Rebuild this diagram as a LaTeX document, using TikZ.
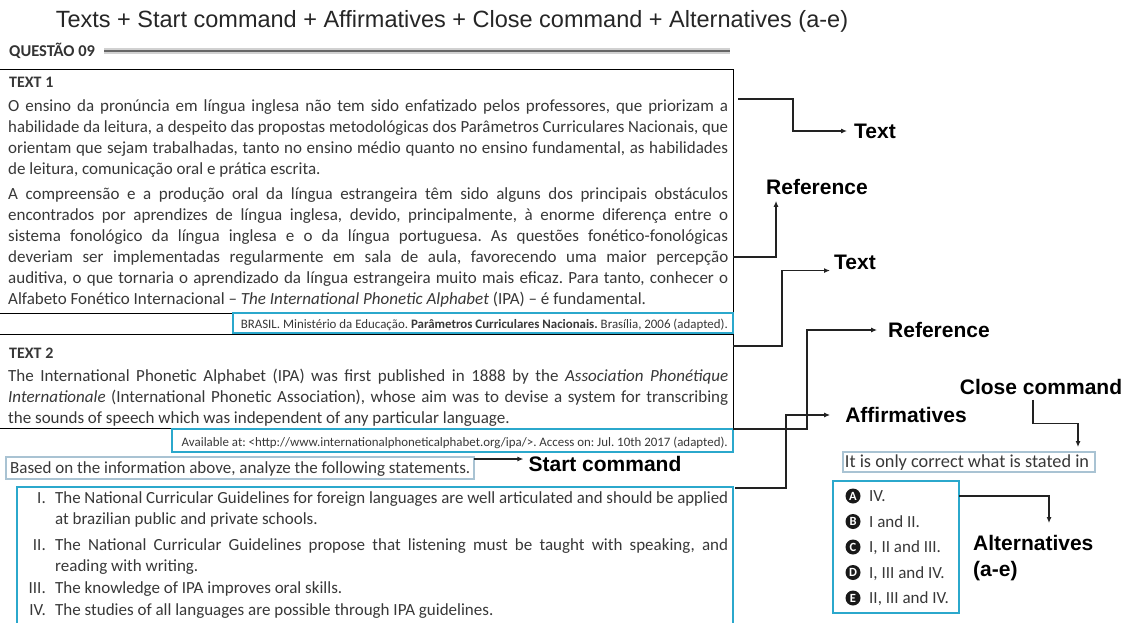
\documentclass[tikz,border=0pt]{standalone}
\usepackage{fontspec}
\usepackage{graphicx}
\setmainfont{Carlito}
\newfontfamily\arialfont{Liberation Sans}
\usetikzlibrary{arrows.meta}
\definecolor{boxcyan}{HTML}{2BA8CC}
\definecolor{boxpale}{HTML}{A9C3D3}
\definecolor{ink}{HTML}{383838}
\definecolor{wire}{HTML}{222222}
\frenchspacing
% one justified line of running text; squeezed if it is too long
\newsavebox\jlbox
\newcommand\jl[1]{\sbox\jlbox{#1}%
  \ifdim\wd\jlbox>\linewidth\resizebox{\linewidth}{\height}{\usebox\jlbox}%
  \else\makebox[\linewidth][s]{#1}\fi}
\begin{document}
\begin{tikzpicture}[x=1pt,y=-1pt,
  body/.style={anchor=base west, inner sep=0pt, text=ink, font=\fontsize{17}{21}\selectfont},
  small/.style={anchor=base east, inner sep=0pt, text=ink, font=\fontsize{12.9}{15}\selectfont},
  tag/.style={inner sep=0pt, text=black, font=\arialfont\bfseries\fontsize{21}{24}\selectfont},
  conn/.style={draw=wire, line width=1.1pt, -{Latex[length=6pt,width=5pt]}},
  frame/.style={draw=black, line width=1pt},
  cyanbox/.style={draw=boxcyan, line width=1.6pt},
  palebox/.style={draw=boxpale, line width=1.4pt},
  altmark/.style={circle, fill=black!90, text=white, inner sep=0pt, minimum size=15pt,
    font=\fontsize{12.5}{13}\selectfont\bfseries},
  altitem/.style={anchor=base west, inner sep=0pt, text=ink, font=\fontsize{17}{20}\selectfont},
  numeral/.style={anchor=base east, inner sep=0pt, text=ink, font=\fontsize{17}{21}\selectfont}]
\useasboundingbox[fill=white] (0,0) rectangle (1132,623);

% heading line
\node[anchor=base, inner sep=0pt, text=black!85, font=\arialfont\fontsize{23.5}{26}\selectfont]
  (title) at (452,28) {Texts + Start command + Affirmatives + Close command + Alternatives (a-e)};
\node[anchor=base west, inner sep=0pt, text=black!80, font=\bfseries\fontsize{16.5}{18}\selectfont]
  (q) at (9,57) {QUESTÃO 09};
\draw[black!18, line width=6pt] (104,51) -- (730,51);
\draw[black!60, line width=1.3pt] (104,51) -- (730,51);

% text frames and their sources
\draw[frame] (0,70) -- (733,70) -- (733,346);
\draw[frame] (0,313) -- (733,313);
\draw[frame] (0,334) -- (733,334) -- (733,428) -- (0,428);
\draw[cyanbox, fill=white] (233,313) rectangle (733,333);
\draw[cyanbox, fill=white] (172,429) rectangle (733,452);
\coordinate (srcB) at (733,429);

\node[body, font=\bfseries\fontsize{16}{21}\selectfont] (t1head) at (9,88) {TEXT 1};
\node[body] (t1) at (8,112) {\parbox[t]{720pt}{\fontsize{17}{21}\selectfont
\jl{O ensino da pronúncia em língua inglesa não tem sido enfatizado pelos professores, que priorizam a}\\
\jl{habilidade da leitura, a despeito das propostas metodológicas dos Parâmetros Curriculares Nacionais, que}\\
\jl{orientam que sejam trabalhadas, tanto no ensino médio quanto no ensino fundamental, as habilidades}\\
de leitura, comunicação oral e prática escrita.\\[4pt]
\jl{A compreensão e a produção oral da língua estrangeira têm sido alguns dos principais obstáculos}\\
\jl{encontrados por aprendizes de língua inglesa, devido, principalmente, à enorme diferença entre o}\\
\jl{sistema fonológico da língua inglesa e o da língua portuguesa. As questões fonético-fonológicas}\\
\jl{deveriam ser implementadas regularmente em sala de aula, favorecendo uma maior percepção}\\
\jl{auditiva, o que tornaria o aprendizado da língua estrangeira muito mais eficaz. Para tanto, conhecer o}\\
Alfabeto Fonético Internacional – \textit{The International Phonetic Alphabet} (IPA) – é fundamental.}};
\node[small] (src1) at (728,328) {BRASIL. Ministério da Educação. \textbf{Parâmetros Curriculares Nacionais.} Brasília, 2006 (adapted).};

\node[body, font=\bfseries\fontsize{16}{21}\selectfont] (t2head) at (9,358) {TEXT 2};
\node[body] (t2) at (8,381) {\parbox[t]{720pt}{\fontsize{17}{21}\selectfont
\jl{The International Phonetic Alphabet (IPA) was first published in 1888 by the \textit{Association Phonétique}}\\
\jl{\textit{Internationale} (International Phonetic Association), whose aim was to devise a system for transcribing}\\
the sounds of speech which was independent of any particular language.}};
\node[small] (src2) at (728,446) {Available at: <http://www.internationalphoneticalphabet.org/ipa/>. Access on: Jul. 10th 2017 (adapted).};

% start command
\draw[palebox] (6,457) rectangle (474,479);
\node[body] (start) at (10,473) {Based on the information above, analyze the following statements.};
\coordinate (startR) at (474,459);

% statements
\draw[cyanbox] (17,630) -- (17,487) -- (733,487) -- (733,630);
\coordinate (stmR) at (735,488);
\node[numeral] at (46,503) {I.};
\node[numeral] at (46,550) {II.};
\node[numeral] at (46,593) {III.};
\node[numeral] at (46,615) {IV.};
\node[body] (s1) at (55,503) {\parbox[t]{673pt}{\fontsize{17}{21}\selectfont
\jl{The National Curricular Guidelines for foreign languages are well articulated and should be applied}\\
at brazilian public and private schools.}};
\node[body] (s2) at (55,550) {\parbox[t]{673pt}{\fontsize{17}{21}\selectfont
\jl{The National Curricular Guidelines propose that listening must be taught with speaking, and}\\
reading with writing.}};
\node[body] (s3) at (55,593) {The knowledge of IPA improves oral skills.};
\node[body] (s4) at (55,615) {The studies of all languages are possible through IPA guidelines.};

% close command and alternatives
\draw[palebox] (843,452) rectangle (1095,472);
\node[anchor=base, inner sep=0pt, text=ink, font=\fontsize{18.3}{20}\selectfont] (close) at (967,467) {It is only correct what is stated in};
\draw[cyanbox] (833,481) rectangle (959,613);
\coordinate (altR) at (959,496);
\foreach \l/\t [count=\i from 0] in {A/IV., B/I and II., C/{I, II and III.}, D/{I, III and IV.}, E/{II, III and IV.}}{
  \node[altmark] (m\l) at (853,496+25.5*\i) {\l};
  \node[altitem] (a\l) at (869,501.5+25.5*\i) {\t};
}

% labels
\node[tag] (lText1) at (875,131) {Text};
\node[tag] (lRef1) at (817,187) {Reference};
\node[tag] (lText2) at (855,262) {Text};
\node[tag] (lRef2) at (939,330) {Reference};
\node[tag] (lAff) at (906,415) {Affirmatives};
\node[tag] (lStart) at (605,464) {Start command};
\node[tag] (lClose) at (1041,387) {Close command};
\node[tag, anchor=north west, align=left, font=\arialfont\bfseries\fontsize{21}{26}\selectfont]
  (lAlt) at (973,535) {Alternatives\\(a-e)};

% connectors
\coordinate (t1out) at (738,99);
\coordinate (t1mid) at (733,257);
\coordinate (t2top) at (733,346);
\coordinate (closeIn) at (1078,447);
\coordinate (altIn) at (1049,523);
\draw[conn] (t1out) -- (793,99) |- ([xshift=-7pt]lText1.west);
\draw[conn] (t1mid) -| ([xshift=10pt,yshift=-6pt]lRef1.south west);
\draw[conn] (t2top) -- (782,346) |- ([xshift=-4pt,yshift=-1pt]lText2.south west);
\draw[conn] (srcB) -- (807,429) |- ([xshift=-11pt]lRef2.west);
\draw[conn] (stmR) -- (786,488) |- ([xshift=-15pt]lAff.west);
\draw[conn] (startR) -- ([xshift=-5pt]lStart.west |- startR);
\draw[conn] ([xshift=-8pt,yshift=-5pt]lClose.south) -- ++(0,24) -| (closeIn);
\draw[conn] (altR) -| (altIn);
\end{tikzpicture}
\end{document}
